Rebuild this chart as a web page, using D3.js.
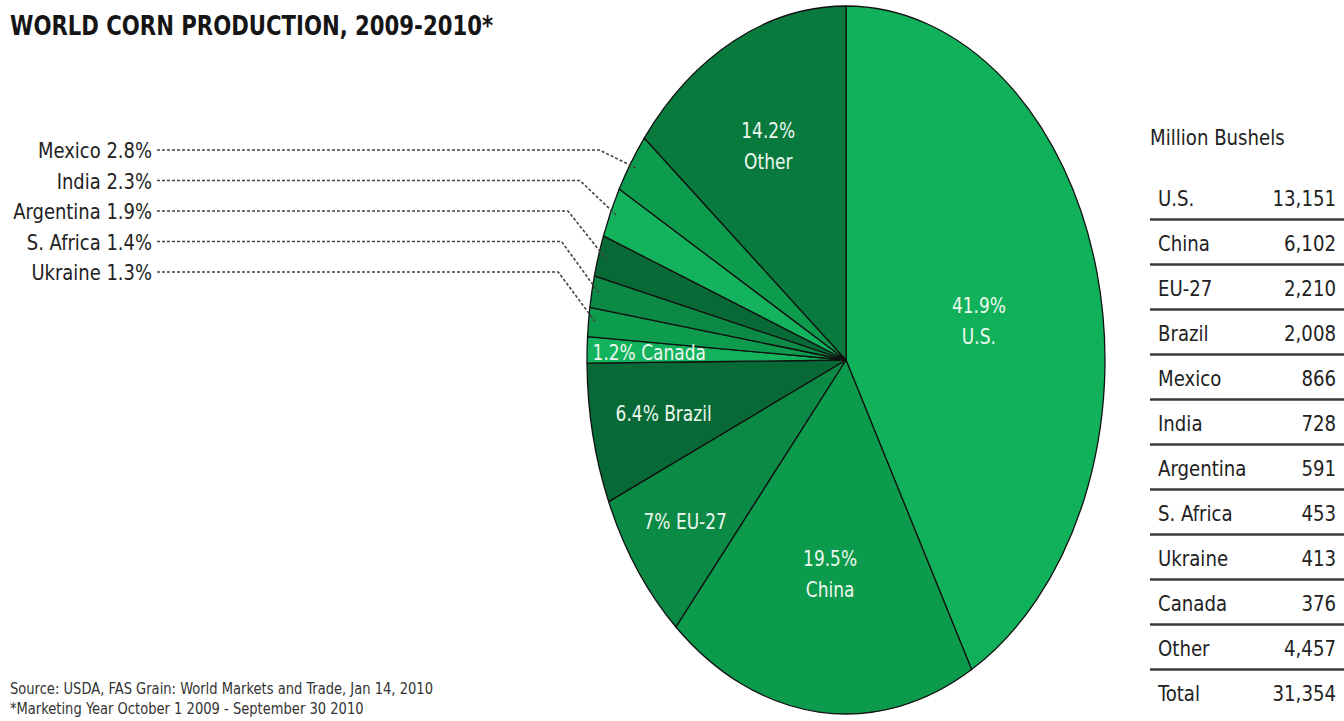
<!DOCTYPE html>
<html><head><meta charset="utf-8">
<script src="https://cdn.jsdelivr.net/npm/d3@7"></script>
<style>
body{margin:0;background:#fff}
svg{display:block}
text{font-family:"DejaVu Sans Condensed","Liberation Sans Narrow","Liberation Sans",sans-serif}
</style>
</head><body>
<svg id="chart" width="1344" height="721"></svg>
<script>
// ---------- data ----------
const pieCountries = ["U.S.","China","EU-27","Brazil","Canada","Ukraine","S. Africa","Argentina","India","Mexico","Other"];
const pieBushels   = [13151, 6102, 2210, 2008, 376, 413, 453, 591, 728, 866, 4457];
const piePercents  = ["41.9%","19.5%","7%","6.4%","1.2%","1.3%","1.4%","1.9%","2.3%","2.8%","14.2%"];
const tableNames   = ["U.S.","China","EU-27","Brazil","Mexico","India","Argentina","S. Africa","Ukraine","Canada","Other","Total"];
const tableValues  = ["13,151","6,102","2,210","2,008","866","728","591","453","413","376","4,457","31,354"];
const calloutCountries = ["Mexico","India","Argentina","S. Africa","Ukraine"];
const titleText  = "WORLD CORN PRODUCTION, 2009-2010*";
const unitText   = "Million Bushels";
const sourceText = "Source: USDA, FAS Grain: World Markets and Trade, Jan 14, 2010";
const noteText   = "*Marketing Year October 1 2009 - September 30 2010";

// ---------- styles / layout ----------
const sliceColors = ["#11b15c","#0c9a4c","#0a8a45","#076a36","#13b35e","#0d9c4e","#0a8a44","#076a36","#13b35e","#0d9c4e","#087a3d"];
const labelStyle = { // radius fraction of the label anchor on the slice's mid-angle, format
  "U.S.":  {r:0.53, two:true},
  "China": {r:0.585, two:true},
  "Other": {r:0.695, two:true},
  "EU-27": {r:0.77, two:false},
  "Brazil":{r:0.72, two:false},
  "Canada":{r:0.76, two:false}
};
const W = 1344, H = 721;
const cx = 846, cy = 360, rx = 259, ry = 354;

const svg = d3.select("#chart");

// compress text horizontally (keeps it real text)
function condense(t, factor){
  const n = t.node();
  const L = n.getComputedTextLength();
  t.attr("textLength", L*factor).attr("lengthAdjust","spacingAndGlyphs");
  return t;
}

// title
const title = svg.append("text").attr("x",10).attr("y",35)
  .attr("font-size",27).attr("font-weight","bold").attr("fill","#151515")
  .text(titleText);
title.attr("textLength",483).attr("lengthAdjust","spacingAndGlyphs");

// ---------- pie ----------
const data = pieCountries.map((c,i)=>({name:c, value:pieBushels[i], pct:piePercents[i], color:sliceColors[i]}));
const pie = d3.pie().value(d=>d.value).sort(null);
const arcs = pie(data);
const arc = d3.arc().innerRadius(0).outerRadius(ry);
const sx = rx/ry;

const gPie = svg.append("g").attr("transform",`translate(${cx},${cy}) scale(${sx},1)`);
gPie.selectAll("path").data(arcs).join("path")
  .attr("d",arc)
  .attr("fill",d=>d.data.color)
  .attr("stroke","#111")
  .attr("stroke-width",1.3)
  .attr("stroke-linejoin","round")
  .attr("vector-effect","non-scaling-stroke");

function ellPoint(a,f){ return [cx + rx*f*Math.sin(a), cy - ry*f*Math.cos(a)]; }

// inside labels
const labelFill = "#eef8ef";
arcs.filter(d=>labelStyle[d.data.name]).forEach(d=>{
  const st = labelStyle[d.data.name];
  const mid = (d.startAngle+d.endAngle)/2;
  const [x,y] = ellPoint(mid, st.r);
  if(st.two){
    const t1 = svg.append("text").attr("x",x).attr("y",y).attr("text-anchor","middle")
      .attr("fill",labelFill).attr("font-size",21).text(d.data.pct);
    const t2 = svg.append("text").attr("x",x).attr("y",y+31).attr("text-anchor","middle")
      .attr("fill",labelFill).attr("font-size",21).text(d.data.name);
    condense(t1,0.9); condense(t2,0.9);
  } else {
    const t = svg.append("text").attr("x",x).attr("y",y+8).attr("text-anchor","middle")
      .attr("fill",labelFill).attr("font-size",21)
      .text(d.data.pct+" "+d.data.name);
    condense(t,0.9);
  }
});

// ---------- callouts ----------
const yCall = d3.scalePoint().domain(calloutCountries).range([150,272]);
calloutCountries.forEach(name=>{
  const d = arcs.find(a=>a.data.name===name);
  const y = yCall(name);
  const t = svg.append("text").attr("x",152).attr("y",y+8).attr("text-anchor","end")
    .attr("font-size",21).attr("fill","#222")
    .text(name+" "+d.data.pct);
  condense(t,0.95);
  const mid = (d.startAngle+d.endAngle)/2;
  const [tx,ty] = ellPoint(mid,0.97);
  const bx = tx - 38;
  svg.append("path")
    .attr("d",`M157,${y} L${bx},${y} L${tx},${ty}`)
    .attr("fill","none").attr("stroke","#444").attr("stroke-width",1.6)
    .attr("stroke-dasharray","3,2");
});

// ---------- table ----------
condense(svg.append("text").attr("x",1150).attr("y",145).attr("font-size",21).attr("fill","#222").text(unitText),0.96);
const yRow = d3.scalePoint().domain(tableNames).range([206, 206+45*(tableNames.length-1)]);
const gT = svg.append("g");
tableNames.forEach((n,i)=>{
  const y = yRow(n);
  condense(gT.append("text").attr("x",1158).attr("y",y).attr("font-size",21).attr("fill","#222").text(n),0.96);
  condense(gT.append("text").attr("x",1336).attr("y",y).attr("text-anchor","end").attr("font-size",21).attr("fill","#222").text(tableValues[i]),0.96);
  if(i < tableNames.length-1){
    gT.append("line").attr("x1",1150).attr("x2",W).attr("y1",y+13.5).attr("y2",y+13.5)
      .attr("stroke","#3a3a3a").attr("stroke-width",2.5);
  }
});

// footer
condense(svg.append("text").attr("x",10).attr("y",694).attr("font-size",15).attr("fill","#333").text(sourceText),0.97);
condense(svg.append("text").attr("x",10).attr("y",714).attr("font-size",15).attr("fill","#333").text(noteText),0.97);
</script>
</body></html>
